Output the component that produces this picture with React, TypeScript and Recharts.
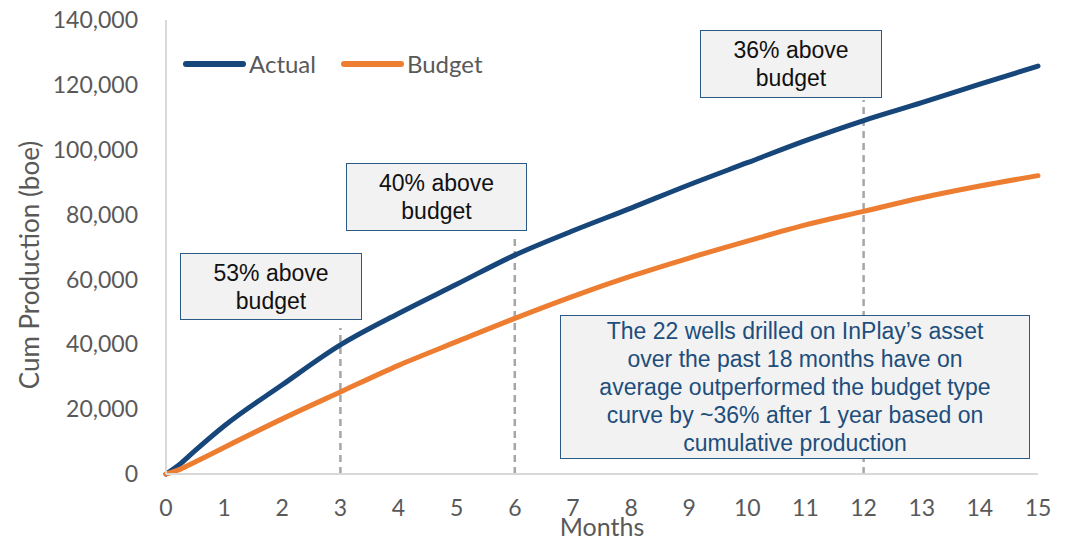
import { LineChart, Line, XAxis, YAxis, ReferenceLine, Legend, Label } from 'recharts';

// months since first production
const months = [0, 0.25, 0.5, 1, 2, 3, 4, 5, 6, 7, 8, 9, 10, 11, 12, 13, 14, 15];
// cumulative production, boe
const actual = [0, 3200, 7200, 14800, 27500, 39800, 49500, 58500, 67500, 75000, 82000, 89200, 96000, 102800, 109000, 114500, 120200, 125800];
const budget = [0, 1500, 3700, 8200, 17000, 25300, 33500, 40800, 48000, 54800, 61000, 66600, 71800, 76800, 81000, 85200, 88800, 92000];

const xTicks = [0, 1, 2, 3, 4, 5, 6, 7, 8, 9, 10, 11, 12, 13, 14, 15];
const yTicks = [0, 20000, 40000, 60000, 80000, 100000, 120000, 140000];

// dashed markers: month and how high the dash reaches
const markerMonths = [3, 6, 12];
const markerTops = [45000, 73700, 115300];

const calloutTexts = ['53% above budget', '40% above budget', '36% above budget'];
const summaryText =
  'The 22 wells drilled on InPlay\u2019s asset over the past 18 months have on average outperformed the budget type curve by ~36% after 1 year based on cumulative production';

const BLUE = '#17467A';
const ORANGE = '#ED7D31';
const AXIS_GRAY = '#D9D9D9';
const TEXT_GRAY = '#595959';

const data = months.map((m, i) => ({ month: m, actual: actual[i], budget: budget[i] }));

function LegendContent(props: any) {
  const items = props.payload || [];
  return (
    <div style={{ display: 'flex', alignItems: 'center', fontFamily: 'Lato', fontSize: 24, color: TEXT_GRAY }}>
      {items.map((it: any, i: number) => (
        <div key={it.value} style={{ display: 'flex', alignItems: 'center', marginLeft: i === 0 ? 0 : 25 }}>
          <span style={{ display: 'inline-block', width: 63, height: 6, borderRadius: 3, background: it.color }} />
          <span style={{ marginLeft: 3 }}>{it.value}</span>
        </div>
      ))}
    </div>
  );
}

const boxStyle: React.CSSProperties = {
  position: 'absolute',
  boxSizing: 'border-box',
  background: '#F2F2F2',
  border: '1.5px solid #2B5A87',
  fontFamily: '"Liberation Sans", Arial, sans-serif',
  fontSize: 23,
  lineHeight: '28px',
  textAlign: 'center',
  display: 'flex',
  alignItems: 'center',
  justifyContent: 'center',
  color: '#111',
};

export default function App() {
  return (
    <div style={{ position: 'absolute', left: 0, top: 0, width: 1067, height: 543, background: '#fff' }}>
      <LineChart
        width={1067}
        height={543}
        data={data}
        margin={{ top: 20, right: 29, bottom: 5, left: 26 }}
        style={{ fontFamily: 'Lato' }}
      >
        <XAxis
          dataKey="month"
          type="number"
          domain={[0, 15]}
          ticks={xTicks}
          interval={0}
          height={64}
          tickLine={false}
          tickMargin={20}
          axisLine={{ stroke: AXIS_GRAY, strokeWidth: 2 }}
          tick={{ fill: TEXT_GRAY, fontSize: 23, fontFamily: 'Lato' }}
        >
          <Label
            content={(p: any) => {
              const vb = p.viewBox;
              return (
                <text x={vb.x + vb.width / 2} y={vb.y + 62} textAnchor="middle" fill={TEXT_GRAY} fontSize={25} fontFamily="Lato">
                  Months
                </text>
              );
            }}
          />
        </XAxis>
        <XAxis
          xAxisId="top"
          orientation="top"
          type="number"
          domain={[0, 15]}
          height={0}
          tick={false}
          tickLine={false}
          axisLine={{ stroke: AXIS_GRAY, strokeWidth: 2 }}
        />
        <YAxis
          type="number"
          domain={[0, 140000]}
          ticks={yTicks}
          width={140}
          tickLine={false}
          tickMargin={22}
          axisLine={{ stroke: AXIS_GRAY, strokeWidth: 2 }}
          tickFormatter={(v: number) => v.toLocaleString('en-US')}
          tick={{ fill: TEXT_GRAY, fontSize: 23, fontFamily: 'Lato' }}
        >
          <Label
            content={(p: any) => {
              const vb = p.viewBox;
              const cx = vb.x + 3;
              const cy = vb.y + vb.height / 2 + 18;
              return (
                <text
                  x={cx}
                  y={cy}
                  transform={`rotate(-90 ${cx} ${cy})`}
                  textAnchor="middle"
                  dominantBaseline="central"
                  fill={TEXT_GRAY}
                  fontSize={26}
                  fontFamily="Lato"
                >
                  Cum Production (boe)
                </text>
              );
            }}
          />
        </YAxis>
        <YAxis
          yAxisId="right"
          orientation="right"
          type="number"
          domain={[0, 140000]}
          width={0}
          tick={false}
          tickLine={false}
          axisLine={{ stroke: AXIS_GRAY, strokeWidth: 2 }}
        />
        {markerMonths.map((m, i) => (
          <ReferenceLine
            key={m}
            segment={[
              { x: m, y: 0 },
              { x: m, y: markerTops[i] },
            ]}
            stroke="#A6A6A6"
            strokeWidth={2.5}
            strokeDasharray="7 5"
          />
        ))}
        <Legend
          layout="horizontal"
          verticalAlign="middle"
          align="center"
          wrapperStyle={{ left: 183, top: 49, width: 'auto' }}
          content={<LegendContent />}
        />
        <Line
          type="monotone"
          dataKey="actual"
          name="Actual"
          stroke={BLUE}
          strokeWidth={5}
          strokeLinecap="round"
          dot={false}
          isAnimationActive={false}
        />
        <Line
          type="monotone"
          dataKey="budget"
          name="Budget"
          stroke={ORANGE}
          strokeWidth={5}
          strokeLinecap="round"
          dot={false}
          isAnimationActive={false}
        />
      </LineChart>

      <div style={{ ...boxStyle, left: 180, top: 253, width: 182, height: 67 }}>
        <div style={{ width: 130 }}>{calloutTexts[0]}</div>
      </div>
      <div style={{ ...boxStyle, left: 346, top: 163, width: 181, height: 68 }}>
        <div style={{ width: 130 }}>{calloutTexts[1]}</div>
      </div>
      <div style={{ ...boxStyle, left: 700, top: 30, width: 182, height: 68 }}>
        <div style={{ width: 130 }}>{calloutTexts[2]}</div>
      </div>
      <div style={{ ...boxStyle, left: 560, top: 315, width: 470, height: 144, color: '#1D4E7C' }}>
        <div style={{ width: 408 }}>{summaryText}</div>
      </div>
    </div>
  );
}
